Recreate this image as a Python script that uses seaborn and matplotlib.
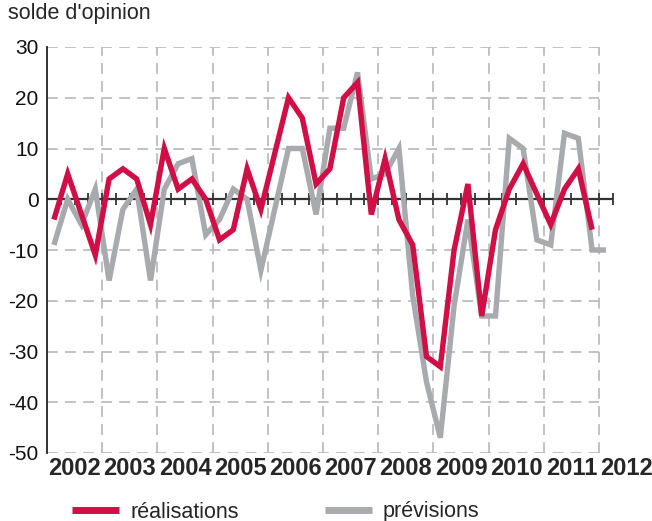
import numpy as np
import pandas as pd
import matplotlib
matplotlib.use('Agg')
import matplotlib.pyplot as plt
import seaborn as sns
from matplotlib.lines import Line2D

# quarterly balances of opinion, from 2002 Q1
realisations = [-4, 5, -3, -11, 4, 6, 4, -5, 10, 2, 4, 0,
                -8, -6, 6, -2, 9, 20, 16, 3, 6, 20, 23, -3,
                8, -4, -9, -31, -33, -10, 3, -23, -6, 2, 7, 1,
                -5, 2, 6, -6]
previsions = [-9, 0, -5, 2, -16, -2, 2, -16, 2, 7, 8, -7,
              -4, 2, 0, -14, -2, 10, 10, -3, 14, 14, 25, 4,
              5, 10, -19, -36, -47, -21, -4, -23, -23, 12, 10, -8,
              -9, 13, 12, -10, -10]
first_year = 2002
years = list(range(2002, 2013))
yticks = [30, 20, 10, 0, -10, -20, -30, -40, -50]

RED = '#CF0F45'
GREY = '#A9AAAE'

df_r = pd.DataFrame({'t': first_year + (np.arange(len(realisations)) + 0.5) / 4,
                     'v': realisations})
df_p = pd.DataFrame({'t': first_year + (np.arange(len(previsions)) + 0.5) / 4,
                     'v': previsions})

sns.set_style('white')
plt.rcParams['font.family'] = ['Liberation Sans', 'DejaVu Sans']

fig = plt.figure(figsize=(6.52, 5.21), dpi=100)
ax = fig.add_axes([47 / 652, 68 / 521, 593 / 652, 406 / 521])

x_end = years[-1]
ax.set_xlim(first_year, first_year + 593 / 55.2)
ax.set_ylim(-50, 30)

# dashed grid
grid_kw = dict(colors='#BDBDBD', linestyles=(0, (6, 4)), linewidth=1.3, zorder=0)
ax.hlines([y for y in yticks if y != 0], first_year, x_end, **grid_kw)
ax.vlines(years[1:], -50, 30, **grid_kw)

# zero line with quarterly ticks
ax.hlines(0, first_year, x_end + 0.25, colors='#333333', linewidth=1.6, zorder=1)
qticks = first_year + np.arange(1, (x_end - first_year) * 4 + 2) / 4
ax.plot(qticks, np.zeros(len(qticks)), ls='none', marker='|', ms=9, mew=1.3,
        color='#333333', zorder=1)

line_kw = dict(linewidth=3.9, solid_joinstyle='miter', solid_capstyle='butt')
sns.lineplot(data=df_p, x='t', y='v', color=GREY, ax=ax, zorder=2, **line_kw)
sns.lineplot(data=df_r, x='t', y='v', color=RED, ax=ax, zorder=3, **line_kw)

ax.set_xlabel('')
ax.set_ylabel('')
for s in ['top', 'right', 'bottom']:
    ax.spines[s].set_visible(False)
ax.spines['left'].set_color('#222222')
ax.spines['left'].set_linewidth(1.3)

ax.set_yticks(yticks)
ax.set_yticklabels([str(y) for y in yticks], fontsize=15, color='#111111')
ax.tick_params(axis='y', direction='in', length=11, width=1.3, color='#222222', pad=6)
ax.set_xticks([y + 0.5 for y in years])
ax.set_xticklabels([str(y) for y in years], fontsize=17, fontweight='bold')
ax.tick_params(axis='x', length=0, pad=3)

fig.text(8 / 652, 1 - 3 / 521, "solde d'opinion", fontsize=15.5, va='top', ha='left')

handles = [Line2D([], [], color=RED, linewidth=5, solid_capstyle='butt'),
           Line2D([], [], color=GREY, linewidth=5, solid_capstyle='butt')]
fig.legend(handles, ['réalisations', 'prévisions'], ncol=2, frameon=False,
           loc='center left', bbox_to_anchor=(72 / 652, 9 / 521), fontsize=15.5,
           handlelength=2.2, handletextpad=0.5, columnspacing=4.0,
           borderpad=0, borderaxespad=0)

fig.savefig('out.png', dpi=100)
